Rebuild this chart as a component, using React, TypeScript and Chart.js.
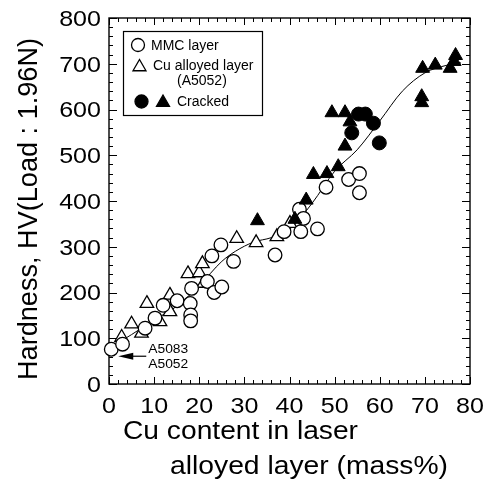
import React, { useEffect, useRef } from "react";
import { Chart, registerables } from "chart.js";
Chart.register(...registerables);

// ---- Data ----
const mmcX = [0.5, 3, 8, 10.2, 12, 15.1, 18, 18.1, 18.1, 18.3, 21.8, 23.3, 25, 22.8, 24.8, 27.6, 36.8, 38.8, 42.2, 42.5, 43.1, 46.2, 48.1, 53.1, 55.5, 55.5];
const mmcY = [76, 87, 122, 144, 172, 182, 176, 151, 138, 209, 224, 200, 212, 280, 304, 268, 282, 333, 382, 333, 362, 339, 430, 447, 460, 418];

const cuX = [2.8, 5, 7.2, 8.4, 11.3, 13.5, 13.5, 17.5, 20, 20.7, 21, 28.3, 32.6, 37.2, 40.1];
const cuY = [102, 131, 111, 176, 136, 194, 158, 241, 243, 263, 220, 318, 309, 322, 351];

const crackCircX = [53.8, 55.3, 56.8, 58.6, 59.9];
const crackCircY = [549, 590, 590, 570, 527];

const crackTriX = [32.9, 41.2, 43.7, 45.3, 48.3, 50.8, 52.3, 49.4, 52.3, 53.4, 69.5, 72.3, 75.6, 76.5, 76.8, 69.3, 69.3];
const crackTriY = [357, 360, 402, 458, 460, 475, 520, 593, 593, 573, 690, 697, 690, 705, 718, 628, 615];

const fitX = [0, 5, 10, 15, 20, 25, 28, 32, 36, 40, 45, 50, 55, 60, 65, 70, 75, 78];
const fitY = [78, 108, 140, 170, 215, 268, 290, 310, 320, 338, 395, 465, 512, 575, 640, 680, 697, 702];

const xTickLabels = [0, 10, 20, 30, 40, 50, 60, 70, 80];
const yTickLabels = [0, 100, 200, 300, 400, 500, 600, 700, 800];

const xTitle1 = "Cu content in laser";
const xTitle2 = "alloyed layer (mass%)";
const yTitle = "Hardness, HV(Load : 1.96N)";
const legendMMC = "MMC layer";
const legendCu1 = "Cu alloyed layer";
const legendCu2 = "(A5052)";
const legendCracked = "Cracked";
const noteLines = ["A5083", "A5052"];

const FONT = '"Liberation Sans", Arial, Helvetica, sans-serif';

function pts(xs: number[], ys: number[]) {
  return xs.map((x, i) => ({ x, y: ys[i] }));
}

function drawText(ctx: CanvasRenderingContext2D, s: string, x: number, y: number, size: number, align: "left" | "center" | "right", sx = 1) {
  ctx.save();
  ctx.font = `${size}px ${FONT}`;
  ctx.textBaseline = "alphabetic";
  ctx.textAlign = "left";
  ctx.fillStyle = "#000";
  const w = ctx.measureText(s).width * sx;
  const x0 = align === "left" ? x : align === "center" ? x - w / 2 : x - w;
  ctx.translate(x0, y);
  ctx.scale(sx, 1);
  ctx.fillText(s, 0, 0);
  ctx.restore();
}

function fitText(ctx: CanvasRenderingContext2D, s: string, x: number, y: number, size: number, width: number) {
  ctx.save();
  ctx.font = `${size}px ${FONT}`;
  const w = ctx.measureText(s).width;
  ctx.restore();
  drawText(ctx, s, x, y, size, "left", width / w);
}

function circle(ctx: CanvasRenderingContext2D, x: number, y: number, r: number, filled: boolean) {
  ctx.beginPath();
  ctx.arc(x, y, r, 0, Math.PI * 2);
  ctx.fillStyle = filled ? "#000" : "#fff";
  ctx.fill();
  ctx.lineWidth = 1.3;
  ctx.strokeStyle = "#000";
  ctx.stroke();
}

function triangle(ctx: CanvasRenderingContext2D, x: number, y: number, r: number, filled: boolean) {
  ctx.beginPath();
  for (let k = 0; k < 3; k++) {
    const a = (k * 2 * Math.PI) / 3;
    const px = x + Math.sin(a) * r;
    const py = y - Math.cos(a) * r;
    if (k === 0) ctx.moveTo(px, py);
    else ctx.lineTo(px, py);
  }
  ctx.closePath();
  ctx.fillStyle = filled ? "#000" : "#fff";
  ctx.fill();
  ctx.lineWidth = 1.3;
  ctx.strokeStyle = "#000";
  ctx.stroke();
}

export default function App() {
  const ref = useRef<HTMLCanvasElement>(null);

  useEffect(() => {
    const deco = {
      id: "deco",
      beforeDatasetsDraw(chart: any) {
        const ctx: CanvasRenderingContext2D = chart.ctx;
        const { left, right, top, bottom } = chart.chartArea;
        const xs = chart.scales.x;
        const ys = chart.scales.y;
        ctx.save();
        ctx.strokeStyle = "#000";
        ctx.lineWidth = 1.4;
        ctx.strokeRect(left, top, right - left, bottom - top);
        ctx.lineWidth = 1;
        ctx.beginPath();
        for (let v = 0; v <= 80; v += 2) {
          const px = Math.round(xs.getPixelForValue(v)) + 0.5;
          const len = v % 10 === 0 ? 7 : 4;
          ctx.moveTo(px, bottom);
          ctx.lineTo(px, bottom - len);
          ctx.moveTo(px, top);
          ctx.lineTo(px, top + len);
        }
        for (let v = 0; v <= 800; v += 20) {
          const py = Math.round(ys.getPixelForValue(v)) + 0.5;
          const len = v % 100 === 0 ? 8 : 4;
          ctx.moveTo(left, py);
          ctx.lineTo(left + len, py);
          ctx.moveTo(right, py);
          ctx.lineTo(right - len, py);
        }
        ctx.stroke();
        ctx.restore();
      },
      afterDraw(chart: any) {
        const ctx: CanvasRenderingContext2D = chart.ctx;
        const { left, bottom } = chart.chartArea;
        const xs = chart.scales.x;
        const ys = chart.scales.y;
        ctx.save();
        // tick labels
        const tSize = 22;
        const cap = tSize * 0.716;
        yTickLabels.forEach((v) => {
          drawText(ctx, String(v), left - 8, ys.getPixelForValue(v) + cap / 2, tSize, "right", 1.14);
        });
        xTickLabels.forEach((v) => {
          drawText(ctx, String(v), xs.getPixelForValue(v), bottom + 13 + cap, tSize, "center", 1.14);
        });
        // axis titles
        fitText(ctx, xTitle1, 123, 439, 25, 235);
        fitText(ctx, xTitle2, 170, 474, 25, 278);
        ctx.save();
        ctx.translate(37, 380);
        ctx.rotate(-Math.PI / 2);
        fitText(ctx, yTitle, 0, 0, 27, 342);
        ctx.restore();

        // legend box
        ctx.lineWidth = 1.2;
        ctx.strokeStyle = "#000";
        ctx.strokeRect(123.5, 31.5, 139, 84);
        circle(ctx, 138, 45, 6.5, false);
        drawText(ctx, legendMMC, 151, 50, 14, "left");
        triangle(ctx, 139.5, 67, 7.5, false);
        drawText(ctx, legendCu1, 153, 70, 14, "left");
        drawText(ctx, legendCu2, 177, 85, 14, "left");
        circle(ctx, 141.5, 101.5, 6.5, true);
        triangle(ctx, 163, 102.5, 7.5, true);
        drawText(ctx, legendCracked, 177, 106, 14, "left");

        // annotation A5083 / A5052 with arrow pointing to the first MMC point
        const px = xs.getPixelForValue(mmcX[0]);
        const py = ys.getPixelForValue(mmcY[0]);
        const ay = py + 7;
        const tipX = px + 7;
        ctx.beginPath();
        ctx.moveTo(tipX + 10, ay);
        ctx.lineTo(tipX + 28, ay);
        ctx.lineWidth = 1.2;
        ctx.stroke();
        ctx.beginPath();
        ctx.moveTo(tipX, ay);
        ctx.lineTo(tipX + 15, ay - 3.5);
        ctx.lineTo(tipX + 15, ay + 3.5);
        ctx.closePath();
        ctx.fillStyle = "#000";
        ctx.fill();
        fitText(ctx, noteLines[0], tipX + 30, ay - 3, 12, 40);
        fitText(ctx, noteLines[1], tipX + 30, ay + 12, 12, 40);
        ctx.restore();
      },
    };

    const chart = new Chart(ref.current as HTMLCanvasElement, {
      type: "scatter",
      data: {
        datasets: [
          {
            label: "Cracked (Cu alloyed)",
            data: pts(crackTriX, crackTriY),
            pointStyle: "triangle",
            pointRadius: 8,
            backgroundColor: "#000",
            borderColor: "#000",
            borderWidth: 1,
            clip: false,
            order: 0,
          } as any,
          {
            label: "Cracked (MMC)",
            data: pts(crackCircX, crackCircY),
            pointStyle: "circle",
            pointRadius: 7,
            backgroundColor: "#000",
            borderColor: "#000",
            borderWidth: 1,
            clip: false,
            order: 1,
          },
          {
            label: "MMC layer",
            data: pts(mmcX, mmcY),
            pointStyle: "circle",
            pointRadius: 6.8,
            backgroundColor: "#fff",
            borderColor: "#000",
            borderWidth: 1.3,
            clip: false,
            order: 2,
          },
          {
            label: "Cu alloyed layer (A5052)",
            data: pts(cuX, cuY),
            pointStyle: "triangle",
            pointRadius: 7.8,
            backgroundColor: "#fff",
            borderColor: "#000",
            borderWidth: 1.3,
            clip: false,
            order: 3,
          },
          {
            type: "line",
            label: "fit",
            data: pts(fitX, fitY),
            borderColor: "#000",
            borderWidth: 1,
            pointRadius: 0,
            cubicInterpolationMode: "monotone",
            fill: false,
            clip: false,
            order: 4,
          } as any,
        ],
      },
      options: {
        responsive: false,
        animation: false,
        devicePixelRatio: 1,
        layout: { padding: { top: 18, right: 25, left: 0, bottom: 0 } },
        plugins: { legend: { display: false }, tooltip: { enabled: false } },
        scales: {
          x: {
            type: "linear",
            min: 0,
            max: 80,
            ticks: { display: false },
            grid: { display: false },
            border: { display: false },
            afterFit(s: any) {
              s.height = 104;
            },
          },
          y: {
            type: "linear",
            min: 0,
            max: 800,
            ticks: { display: false },
            grid: { display: false },
            border: { display: false },
            afterFit(s: any) {
              s.width = 109;
            },
          },
        },
      },
      plugins: [deco],
    });
    return () => chart.destroy();
  }, []);

  return (
    <div style={{ position: "absolute", left: 0, top: 0, width: 495, height: 488, background: "#fff" }}>
      <canvas ref={ref} width={495} height={488} style={{ display: "block", width: 495, height: 488 }} />
    </div>
  );
}
